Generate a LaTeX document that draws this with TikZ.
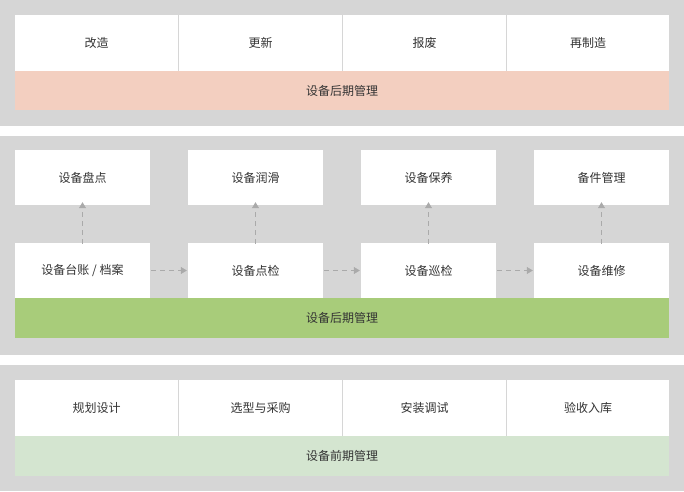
\documentclass[tikz,border=0pt]{standalone}
\usepackage{fontspec}
\setmainfont{Noto Sans CJK SC}
\usetikzlibrary{arrows.meta}
\definecolor{bandgray}{HTML}{D6D6D6}
\definecolor{pinkbar}{HTML}{F3CFC0}
\definecolor{greenbar}{HTML}{A8CC7A}
\definecolor{lgreen}{HTML}{D4E5D0}
\definecolor{arrowgray}{HTML}{AAAAAA}
\tikzset{
  box/.style={fill=white,draw=none,inner sep=0pt,font=\fontsize{12}{14}\selectfont,text=black!80},
  bar/.style={draw=none,inner sep=0pt,font=\fontsize{12}{14}\selectfont,text=black!80},
  darr/.style={draw=arrowgray,dashed,dash pattern=on 5pt off 4pt,line width=0.8pt,-{Triangle[length=6pt,width=7pt]}},
}
\newcommand{\rbox}[6]{\node[#6,minimum width=#3-#1,minimum height=#4-#2] (#5) at ({(#1+#3)/2},{(#2+#4)/2}) {};}
\begin{document}
\begin{tikzpicture}[x=1pt,y=-1pt]
\useasboundingbox (0,0) rectangle (684,491);
\fill[white] (0,0) rectangle (684,491);
\fill[bandgray] (0,0) rectangle (684,126);
\fill[bandgray] (0,136) rectangle (684,355);
\fill[bandgray] (0,365) rectangle (684,491);
% top
\node[box,minimum width=163pt,minimum height=56pt] (t1) at (96.5,43) {改造};
\node[box,minimum width=163pt,minimum height=56pt] (t2) at (260.5,43) {更新};
\node[box,minimum width=163pt,minimum height=56pt] (t3) at (424.5,43) {报废};
\node[box,minimum width=162pt,minimum height=56pt] (t4) at (588,43) {再制造};
\node[bar,fill=pinkbar,minimum width=654pt,minimum height=39pt] (tb) at (342,90.5) {设备后期管理};
% middle
\node[box,minimum width=135pt,minimum height=55pt] (u1) at (82.5,177.5) {设备盘点};
\node[box,minimum width=135pt,minimum height=55pt] (u2) at (255.5,177.5) {设备润滑};
\node[box,minimum width=135pt,minimum height=55pt] (u3) at (428.5,177.5) {设备保养};
\node[box,minimum width=135pt,minimum height=55pt] (u4) at (601.5,177.5) {备件管理};
\node[box,minimum width=135pt,minimum height=55pt] (l1) at (82.5,270.5) {设备台账 / 档案};
\node[box,minimum width=135pt,minimum height=55pt] (l2) at (255.5,270.5) {设备点检};
\node[box,minimum width=135pt,minimum height=55pt] (l3) at (428.5,270.5) {设备巡检};
\node[box,minimum width=135pt,minimum height=55pt] (l4) at (601.5,270.5) {设备维修};
\node[bar,fill=greenbar,minimum width=654pt,minimum height=40pt] (mb) at (342,318) {设备后期管理};
\foreach \i in {1,2,3,4}{
  \draw[darr] ([yshift=-1pt]l\i.north) -- ([yshift=3pt]u\i.south);
}
\draw[darr] ([xshift=1pt]l1.east) -- ([xshift=-1pt]l2.west);
\draw[darr] ([xshift=1pt]l2.east) -- ([xshift=-1pt]l3.west);
\draw[darr] ([xshift=1pt]l3.east) -- ([xshift=-1pt]l4.west);
% bottom
\node[box,minimum width=163pt,minimum height=56pt] (b1) at (96.5,408) {规划设计};
\node[box,minimum width=163pt,minimum height=56pt] (b2) at (260.5,408) {选型与采购};
\node[box,minimum width=163pt,minimum height=56pt] (b3) at (424.5,408) {安装调试};
\node[box,minimum width=162pt,minimum height=56pt] (b4) at (588,408) {验收入库};
\node[bar,fill=lgreen,minimum width=654pt,minimum height=40pt] (bb) at (342,456) {设备前期管理};
\end{tikzpicture}
\end{document}
